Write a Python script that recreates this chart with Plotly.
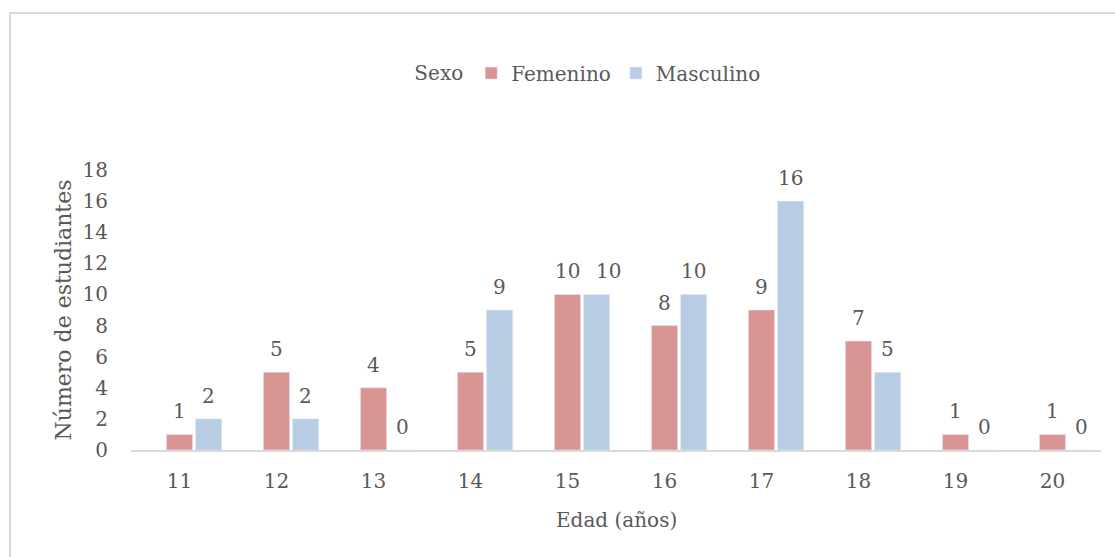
import plotly.graph_objects as go

# Edad (años) y número de estudiantes por sexo
edades = [11, 12, 13, 14, 15, 16, 17, 18, 19, 20]
femenino = [1, 5, 4, 5, 10, 8, 9, 7, 1, 1]
masculino = [2, 2, 0, 9, 10, 10, 16, 5, 0, 0]

COLOR_FEM = "#D99594"
COLOR_MAS = "#B8CCE4"
TEXT = "#595959"
FONT = "DejaVu Serif"

BAR_W = 0.27
GAP = 0.30
fig = go.Figure()
fig.add_trace(go.Bar(
    x=edades, y=femenino, name="Femenino", marker_color=COLOR_FEM,
    width=BAR_W, offset=-BAR_W / 2,
))
fig.add_trace(go.Bar(
    x=edades, y=masculino, name="Masculino", marker_color=COLOR_MAS,
    width=BAR_W, offset=-BAR_W / 2 + GAP,
))

# value labels above each bar; nudge the right label when both are wide
annotations = []
for e, f, m in zip(edades, femenino, masculino):
    wide = len(str(f)) > 1 and len(str(m)) > 1
    for v, dx, xs in ((f, 0.0, 0), (m, GAP, 12 if wide else 0)):
        annotations.append(dict(
            x=e + dx, y=v, text=str(v), showarrow=False,
            xanchor="center", yanchor="bottom", yshift=9, xshift=xs,
            font=dict(family=FONT, size=20, color=TEXT),
        ))

annotations.append(dict(
    x=0.5, y=-0.25, xref="paper", yref="paper", text="Edad (años)",
    showarrow=False, xanchor="center", yanchor="middle",
    font=dict(family=FONT, size=20, color=TEXT),
))

fig.update_layout(
    width=1115, height=557,
    margin=dict(l=131, r=14, t=170, b=107),
    paper_bgcolor="white", plot_bgcolor="white",
    barmode="overlay",
    font=dict(family=FONT, size=20, color=TEXT),
    showlegend=True,
    legend=dict(
        orientation="h", x=0.472, xanchor="center", y=1.346, yanchor="middle",
        bgcolor="rgba(0,0,0,0)", itemwidth=30,
        title=dict(text="Sexo", side="left",
                   font=dict(family=FONT, size=20, color=TEXT)),
        font=dict(family=FONT, size=20, color=TEXT),
    ),
    xaxis=dict(
        range=[10.5, 20.5], tickmode="array", tickvals=edades,
        ticktext=[str(e) for e in edades], showgrid=False, zeroline=False,
        showline=True, linecolor="#D9D9D9", linewidth=2, ticks="",
        tickfont=dict(family=FONT, size=20, color=TEXT), ticklabelstandoff=12,
    ),
    yaxis=dict(
        range=[0, 18], tickmode="linear", tick0=0, dtick=2, showgrid=False,
        zeroline=False, showline=False, ticks="",
        tickfont=dict(family=FONT, size=20, color=TEXT), ticklabelstandoff=22,
        title=dict(text="Número de estudiantes", standoff=4,
                   font=dict(family=FONT, size=22, color=TEXT)),
    ),
    annotations=annotations,
    shapes=[dict(
        type="rect", xref="paper", yref="paper",
        x0=-0.1247, x1=1.03, y0=-0.4, y1=1.5607,
        line=dict(color="#D9D9D9", width=2), fillcolor="rgba(0,0,0,0)",
        layer="below",
    )],
)

fig.write_html("out.html")
